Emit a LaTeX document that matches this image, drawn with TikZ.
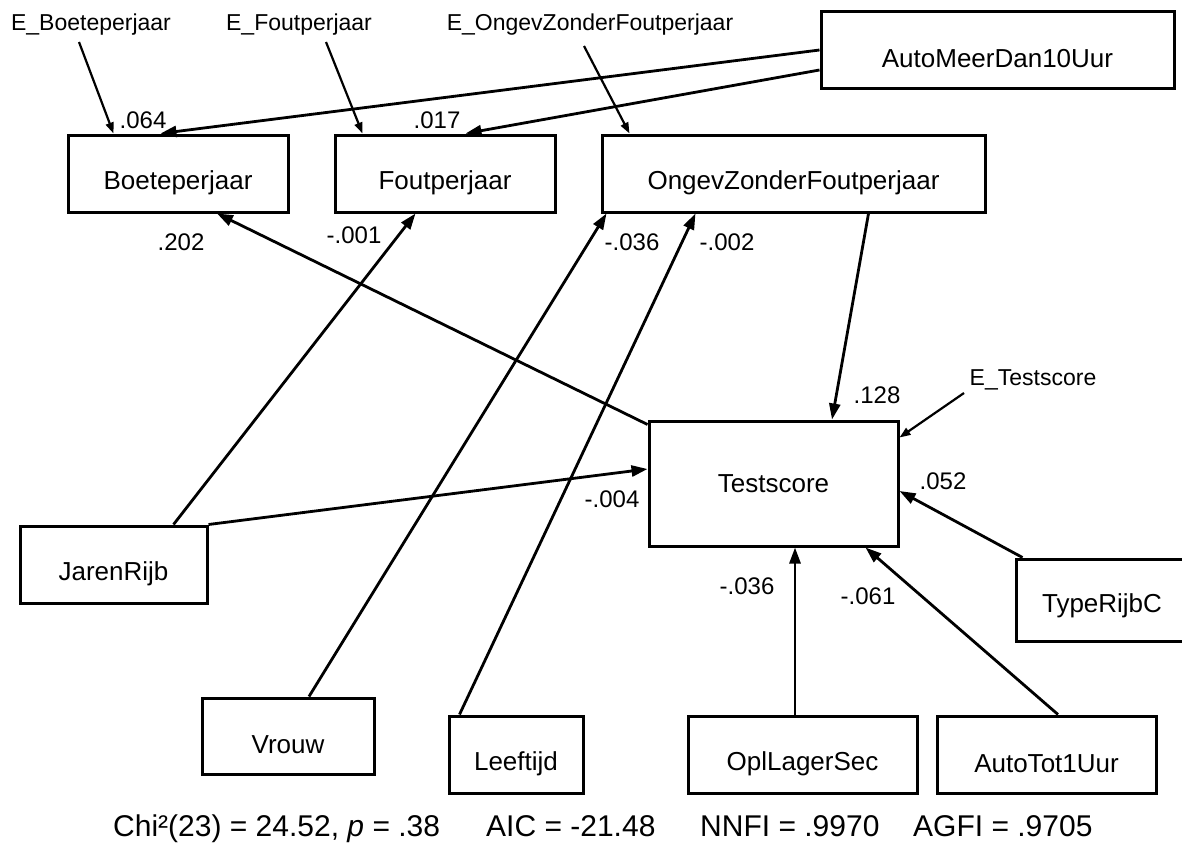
\documentclass[tikz,border=0pt]{standalone}
\usepackage{fontspec}
\setmainfont{Liberation Sans}
\usetikzlibrary{arrows.meta}
\begin{document}
\begin{tikzpicture}[x=1pt,y=-1pt,
  var/.style 2 args={draw,line width=3pt,inner sep=0pt,minimum width=#1,minimum height=#2},
  vname/.style={font=\fontsize{26}{31}\selectfont,inner sep=0pt,yshift=-9pt},
  err/.style={font=\fontsize{23}{27}\selectfont,inner sep=0pt,anchor=base},
  coef/.style={font=\fontsize{24}{28}\selectfont,inner sep=0pt},
  stat/.style={font=\fontsize{30}{36}\selectfont,inner sep=0pt,anchor=base west},
  arr/.style={line width=2.8pt,-{Triangle[length=16pt,width=11pt]}},
  earr/.style={line width=2.2pt,-{Triangle[length=11pt,width=8pt]}}]
\useasboundingbox (0,0) rectangle (1182,843);

% error terms
\node[err] (eboete) at (91,31) {E\_Boeteperjaar};
\node[err] (efout) at (299,31) {E\_Foutperjaar};
\node[err] (eongev) at (590,31) {E\_OngevZonderFoutperjaar};
\node[err] (etest) at (1033,385) {E\_Testscore};

% observed variables
\node[var={353}{76}, label={[vname]center:AutoMeerDan10Uur}] (automeer) at (997.5,50) {};
\node[var={220}{77}, label={[vname]center:Boeteperjaar}] (boete) at (178,173.5) {};
\node[var={220}{77}, label={[vname]center:Foutperjaar}] (fout) at (445,173.5) {};
\node[var={383}{77}, label={[vname]center:OngevZonderFoutperjaar}] (ongev) at (793.5,173.5) {};
\node[var={249}{125}, label={[vname,yshift=9pt]center:Testscore}] (test) at (773.5,483.5) {};
\node[var={187}{77}, label={[vname]center:JarenRijb}] (jaren) at (113.5,564.5) {};
\node[var={172}{82}, label={[vname,yshift=3pt]center:TypeRijbC}] (type) at (1102,600) {};
\node[var={172}{76}, label={[vname]center:Vrouw}] (vrouw) at (288,736) {};
\node[var={134}{77}, label={[vname]center:Leeftijd}] (leeftijd) at (516,754.5) {};
\node[var={229}{77}, label={[vname]center:OplLagerSec}] (opl) at (802.5,754.5) {};
\node[var={219}{77}, label={[vname]center:AutoTot1Uur}] (autotot) at (1046.5,754.5) {};

% disturbances
\draw[earr] ([xshift=-12pt,yshift=-11pt]eboete.base) -- ([xshift=47pt]boete.north west);
\draw[earr] ([xshift=27pt,yshift=-11pt]efout.base) -- ([xshift=29pt]fout.north west);
\draw[earr] ([xshift=-6pt,yshift=-15pt]eongev.base) -- ([xshift=29pt]ongev.north west);
\draw[earr] ([xshift=-69pt,yshift=-8pt]etest.base) -- ([yshift=-18pt]test.north east);

% paths
\draw[arr] (automeer.west) -- ([xshift=94pt]boete.north west);
\draw[arr] ([yshift=-20pt]automeer.west) -- ([xshift=132pt]fout.north west);
\draw[arr] ([yshift=-5pt]test.north west) -- ([xshift=39pt]boete.south);
\draw[arr] ([xshift=155pt]jaren.north west) -- ([xshift=82pt]fout.south west);
\draw[arr] (jaren.north east) -- ([yshift=14.5pt]test.west);
\draw[arr] ([xshift=21pt]vrouw.north) -- ([xshift=6pt]ongev.south west);
\draw[arr] ([xshift=12pt]leeftijd.north west) -- ([xshift=95pt]ongev.south west);
\draw[arr] ([xshift=268pt]ongev.south west) -- ([xshift=58.5pt]test.north);
\draw[arr] ([xshift=8pt]type.north west) -- ([yshift=-7.5pt]test.east);
\draw[arr] ([xshift=-7.5pt]opl.north) -- ([xshift=21.5pt]test.south);
\draw[arr] ([xshift=11.5pt]autotot.north) -- ([xshift=-34pt]test.south east);

% coefficients
\node[coef] (c1) at (143,120) {.064};
\node[coef] (c2) at (437,120) {.017};
\node[coef] (c3) at (181,242) {.202};
\node[coef] (c4) at (354,235) {-.001};
\node[coef] (c5) at (632,242) {-.036};
\node[coef] (c6) at (727,242) {-.002};
\node[coef] (c7) at (877,395) {.128};
\node[coef] (c8) at (612,499) {-.004};
\node[coef] (c9) at (943,481) {.052};
\node[coef] (c10) at (747,586) {-.036};
\node[coef] (c11) at (868,596) {-.061};

% fit statistics
\node[stat] (chi) at (113,836) {Chi²(23) = 24.52, \textit{p} = .38};
\node[stat] (aic) at (486,836) {AIC = -21.48};
\node[stat] (nnfi) at (700,836) {NNFI = .9970};
\node[stat] (agfi) at (913,836) {AGFI = .9705};
\end{tikzpicture}
\end{document}
